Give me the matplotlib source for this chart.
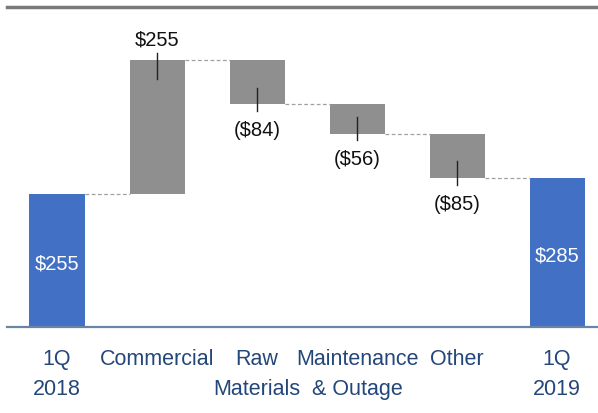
import numpy as np
import matplotlib
matplotlib.use('Agg')
import matplotlib.pyplot as plt

# bridge data, $ millions
categories = ["1Q\n2018", "Commercial", "Raw\nMaterials", "Maintenance\n& Outage", "Other", "1Q\n2019"]
changes = [255, 255, -84, -56, -85]
value_labels = ["$255", "$255", "($84)", "($56)", "($85)", "$285"]

blue = "#4270c4"
gray = "#8f8f8f"
text_blue = "#24477a"
font = ['Liberation Sans Narrow', 'Liberation Sans', 'DejaVu Sans']

fig = plt.figure(figsize=(5.98, 4.14), dpi=100)
ax = fig.add_axes([7 / 598, 86 / 414, 591 / 598, 320 / 414])

running = np.cumsum(changes)
total = running[-1]
x = np.arange(len(categories))
w = 0.55

# start and end totals
ax.bar(x[0], changes[0], width=w, color=blue)
ax.bar(x[-1], total, width=w, color=blue)
ax.text(x[0], changes[0] * 0.48, value_labels[0], color="white", ha="center", va="center",
        fontsize=14.5, family=font)
ax.text(x[-1], total * 0.48, value_labels[-1], color="white", ha="center", va="center",
        fontsize=14.5, family=font)

# floating steps
for i in range(1, len(changes)):
    prev = running[i - 1]
    cur = running[i]
    ax.bar(x[i], cur - prev, bottom=prev, width=w, color=gray)
    top, bot = max(prev, cur), min(prev, cur)
    if changes[i] > 0:
        ax.plot([x[i], x[i]], [top + 14, top - 36], color="#222222", lw=1)
        ax.text(x[i], top + 41, value_labels[i], ha="center", va="center", fontsize=14.5,
                family=font, color="#111111")
    else:
        ax.plot([x[i], x[i]], [bot + 32, bot - 13], color="#222222", lw=1)
        ax.text(x[i], bot - 48, value_labels[i], ha="center", va="center", fontsize=14.5,
                family=font, color="#111111")

# dashed connectors
for i in range(len(changes)):
    ax.plot([x[i] + w / 2, x[i + 1] - w / 2], [running[i], running[i]],
            color="#a0a0a0", lw=0.9, ls=(0, (3, 2)))

ax.set_xlim(-0.5, 5.41)
ax.set_ylim(0, 612)
ax.set_yticks([])
ax.set_xticks(x)
ax.set_xticklabels(categories, fontsize=15.5, color=text_blue, family=font, linespacing=1.6)
ax.tick_params(axis="x", length=0, pad=15)
for s in ["left", "right"]:
    ax.spines[s].set_visible(False)
ax.spines["bottom"].set_color("#6a85a3")
ax.spines["bottom"].set_linewidth(1.6)
ax.spines["top"].set_color("#7a7a7a")
ax.spines["top"].set_linewidth(2.5)

fig.savefig("out.png", dpi=100)
